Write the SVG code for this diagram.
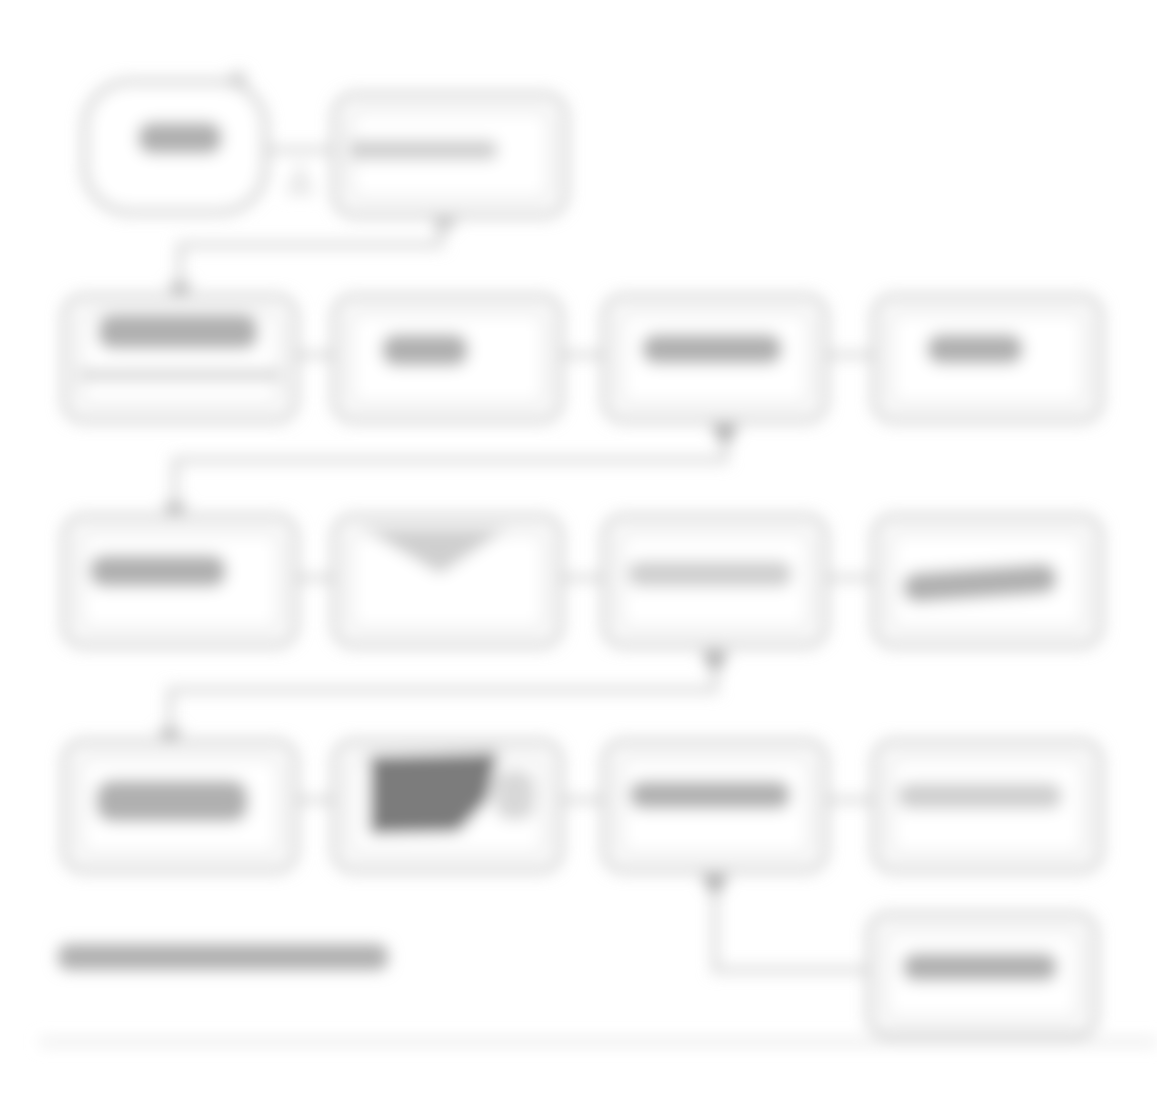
<svg xmlns="http://www.w3.org/2000/svg" width="1157" height="1120" viewBox="0 0 1157 1120">
<defs>
<filter id="blur" x="-5%" y="-5%" width="110%" height="110%"><feGaussianBlur stdDeviation="7.5"/></filter>
</defs>
<style>
.box{fill:#fff;stroke:#c8c8c8;stroke-width:6}
.inner{fill:none;stroke:#e4e4e4;stroke-width:5}
.conn{fill:none;stroke:#d2d2d2;stroke-width:6}
.blob{fill:#b0b0b0}
.blob-l{fill:#cfcfcf}
.blob-d{fill:#7c7c7c}
</style>
<rect width="1157" height="1120" fill="#fff"/>
<g filter="url(#blur)">
<g id="connectors">
<path class="conn" d="M265,150 L335,150"/>
<path class="conn" d="M440,215 L440,245 L180,245 L180,292"/>
<path class="conn" d="M295,355 L335,355"/>
<path class="conn" d="M560,355 L605,355"/>
<path class="conn" d="M825,355 L875,355"/>
<path class="conn" d="M725,420 L725,460 L175,460 L175,512"/>
<path class="conn" d="M295,578 L335,578"/>
<path class="conn" d="M560,578 L605,578"/>
<path class="conn" d="M825,578 L875,578"/>
<path class="conn" d="M715,645 L715,690 L170,690 L170,738"/>
<path class="conn" d="M295,800 L335,800"/>
<path class="conn" d="M560,800 L605,800"/>
<path class="conn" d="M825,800 L875,800"/>
<path class="conn" d="M715,870 L715,970 L870,970"/>
<path d="M715,897 l-14,-22 h28 z" fill="#a8a8a8"/>
<path d="M725,447 l-14,-22 h28 z" fill="#a8a8a8"/>
<path d="M715,674 l-14,-22 h28 z" fill="#a8a8a8"/>
<path d="M180,299 l-13,-16 h26 z" fill="#b8b8b8"/>
<path d="M175,519 l-13,-16 h26 z" fill="#b8b8b8"/>
<path d="M170,745 l-13,-16 h26 z" fill="#b8b8b8"/>
<path d="M445,234 l-13,-16 h26 z" fill="#c8c8c8"/>
<path d="M300,160 L285,195 L315,195 Z" fill="#e8e8e8"/>
</g>
<g id="n-start">
<rect class="box" x="85" y="82" width="180" height="130" rx="45"/>
<circle cx="238" cy="80" r="9" fill="#d0d0d0"/>
<rect class="blob" x="138" y="122" width="84" height="32" rx="14"/>
</g>
<g id="n-b">
<rect class="box" x="335" y="95" width="230" height="120" rx="20"/>
<rect class="inner" x="350" y="110" width="200" height="90" rx="12"/>
<rect class="blob-l" x="348" y="140" width="150" height="20" rx="9"/>
</g>
<g id="n-r1c1">
<rect class="box" x="65" y="297" width="230" height="123" rx="18"/>
<rect class="inner" x="80" y="312" width="200" height="93" rx="10"/>
<rect class="blob" x="98" y="315" width="160" height="34" rx="14"/>
<rect class="blob-l" x="78" y="370" width="204" height="10" rx="5"/>
</g>
<g id="n-r1c2">
<rect class="box" x="335" y="297" width="225" height="123" rx="18"/>
<rect class="inner" x="350" y="312" width="195" height="93" rx="10"/>
<rect class="blob" x="382" y="334" width="86" height="32" rx="14"/>
</g>
<g id="n-r1c3">
<rect class="box" x="605" y="297" width="220" height="123" rx="18"/>
<rect class="inner" x="620" y="312" width="190" height="93" rx="10"/>
<rect class="blob" x="642" y="334" width="140" height="30" rx="14"/>
</g>
<g id="n-r1c4">
<rect class="box" x="875" y="297" width="225" height="123" rx="18"/>
<rect class="inner" x="890" y="312" width="195" height="93" rx="10"/>
<rect class="blob" x="927" y="334" width="96" height="30" rx="14"/>
</g>
<g id="n-r2c1">
<rect class="box" x="65" y="517" width="230" height="128" rx="18"/>
<rect class="inner" x="80" y="532" width="200" height="98" rx="10"/>
<rect class="blob" x="90" y="555" width="136" height="32" rx="14"/>
</g>
<g id="n-r2c2">
<rect class="box" x="335" y="517" width="225" height="128" rx="18"/>
<rect class="inner" x="350" y="532" width="195" height="98" rx="10"/>
<path class="blob-l" d="M362,528 L508,528 L440,574 Z"/>
</g>
<g id="n-r2c3">
<rect class="box" x="605" y="517" width="220" height="128" rx="18"/>
<rect class="inner" x="620" y="532" width="190" height="98" rx="10"/>
<rect class="blob-l" x="628" y="561" width="164" height="26" rx="12"/>
</g>
<g id="n-r2c4">
<rect class="box" x="875" y="517" width="225" height="128" rx="18"/>
<rect class="inner" x="890" y="532" width="195" height="98" rx="10"/>
<rect class="blob" x="903" y="568" width="154" height="30" rx="14" transform="rotate(-4 980 583)"/>
</g>
<g id="n-r3c1">
<rect class="box" x="65" y="742" width="230" height="128" rx="18"/>
<rect class="inner" x="80" y="757" width="200" height="98" rx="10"/>
<rect class="blob" x="96" y="780" width="152" height="42" rx="16"/>
</g>
<g id="n-r3c2">
<rect class="box" x="335" y="742" width="225" height="128" rx="18"/>
<rect class="inner" x="350" y="757" width="195" height="98" rx="10"/>
<path class="blob-d" d="M370,756 L498,752 L488,800 L458,832 L370,834 Z"/>
<rect x="495" y="770" width="40" height="50" rx="15" fill="#d8d8d8"/>
</g>
<g id="n-r3c3">
<rect class="box" x="605" y="742" width="220" height="128" rx="18"/>
<rect class="inner" x="620" y="757" width="190" height="98" rx="10"/>
<rect class="blob" x="630" y="781" width="160" height="28" rx="12"/>
</g>
<g id="n-r3c4">
<rect class="box" x="875" y="742" width="225" height="128" rx="18"/>
<rect class="inner" x="890" y="757" width="195" height="98" rx="10"/>
<rect class="blob-l" x="898" y="783" width="164" height="26" rx="12"/>
</g>
<g id="n-end">
<rect class="box" x="870" y="915" width="225" height="120" rx="18"/>
<rect class="inner" x="885" y="930" width="195" height="90" rx="10"/>
<rect class="blob" x="903" y="953" width="154" height="28" rx="12"/>
</g>
<g id="caption">
<rect class="blob" x="58" y="944" width="330" height="26" rx="10"/>
</g>
<line x1="40" y1="1042" x2="1157" y2="1042" stroke="#ececec" stroke-width="8"/>
</g>
</svg>
